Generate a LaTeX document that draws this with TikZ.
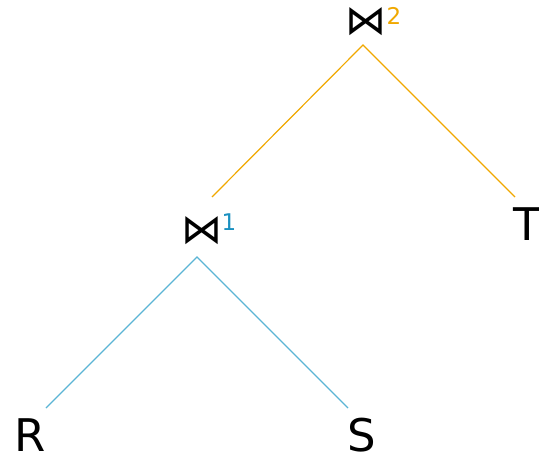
\documentclass[tikz,border=0pt]{standalone}
\usepackage{fontspec}
\setmainfont{DejaVu Sans}
\definecolor{jorange}{HTML}{F0A800}
\definecolor{jblue}{HTML}{5BB5D5}
\definecolor{jbluetext}{HTML}{1A90C0}
\begin{document}
\begin{tikzpicture}[x=1pt,y=-1pt,
  leaf/.style={inner sep=0pt,font=\fontsize{45}{48}\selectfont},
  joinsym/.style={inner sep=0pt,font=\fontsize{41}{44}\selectfont},
  supnum/.style={inner sep=0pt,font=\fontsize{23}{26}\selectfont},
  edge/.style={line width=1.2pt}]
\useasboundingbox (0,0) rectangle (539,455);
\node[joinsym] (j2) at (366,22) {⋈};
\node[supnum,text=jorange] (s2) at (394,16) {2};
\node[joinsym] (j1) at (202,231) {⋈};
\node[supnum,text=jbluetext] (s1) at (229,222) {1};
\node[leaf] (R) at (30,435) {R};
\node[leaf] (S) at (362,435) {S};
\node[leaf] (T) at (527,224) {T};
\coordinate (j2b) at (363,45);
\coordinate (j1t) at (212,197);
\coordinate (Tt) at (515,197);
\coordinate (j1b) at (197,257);
\coordinate (Rt) at (46,408);
\coordinate (St) at (348,408);
\draw[edge,jorange] (j1t) -- (j2b) -- (Tt);
\draw[edge,jblue] (Rt) -- (j1b) -- (St);
\end{tikzpicture}
\end{document}
